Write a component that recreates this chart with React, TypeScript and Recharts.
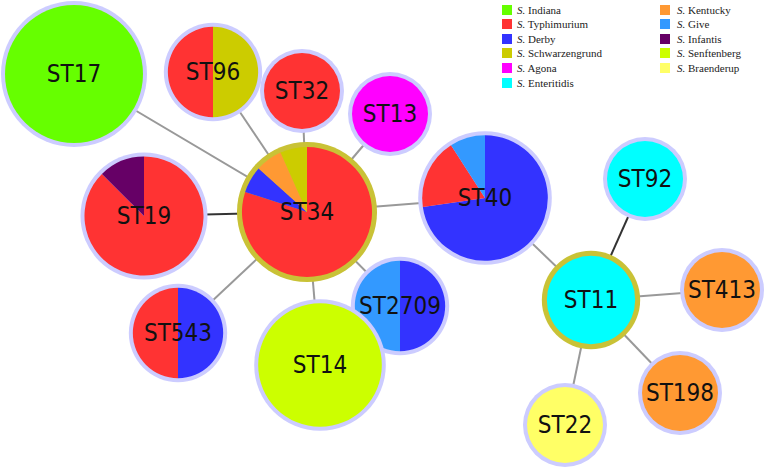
import { ScatterChart, Scatter, XAxis, YAxis, ZAxis } from 'recharts'

// serovars and their legend colours
const species = ['Indiana', 'Typhimurium', 'Derby', 'Schwarzengrund', 'Agona', 'Enteritidis', 'Kentucky', 'Give', 'Infantis', 'Senftenberg', 'Braenderup']
const speciesColors = ['#66ff00', '#ff3333', '#3333ff', '#cccc00', '#ff00ff', '#00ffff', '#ff9933', '#3399ff', '#660066', '#ccff00', '#ffff66']

// sequence types and their position in the MST layout
const nodeIds = ['ST17', 'ST96', 'ST32', 'ST13', 'ST34', 'ST40', 'ST19', 'ST543', 'ST2709', 'ST14', 'ST11', 'ST92', 'ST413', 'ST198', 'ST22']
const layoutX = [74, 213, 302, 390, 307, 485, 144, 178, 400, 320, 591, 645, 722, 680, 565]
const layoutY = [74, 72, 91, 114, 212, 198, 216, 333, 306, 365, 300, 179, 290, 393, 425]

// isolates per serovar in each ST, clockwise from 12 o'clock
const isolates: [string, number][][] = [
  [['Indiana', 20]],
  [['Schwarzengrund', 1], ['Typhimurium', 1]],
  [['Typhimurium', 1]],
  [['Agona', 1]],
  [['Typhimurium', 12], ['Derby', 1], ['Kentucky', 1], ['Schwarzengrund', 1]],
  [['Derby', 8], ['Typhimurium', 2], ['Give', 1]],
  [['Typhimurium', 7], ['Infantis', 1]],
  [['Derby', 1], ['Typhimurium', 1]],
  [['Derby', 1], ['Give', 1]],
  [['Senftenberg', 10]],
  [['Enteritidis', 2]],
  [['Enteritidis', 1]],
  [['Kentucky', 1]],
  [['Kentucky', 1]],
  [['Braenderup', 1]],
]

// group founders get a gold ring
const founders = ['ST34', 'ST11']

const edges: [string, string][] = [
  ['ST17', 'ST34'], ['ST96', 'ST34'], ['ST32', 'ST34'], ['ST13', 'ST34'], ['ST19', 'ST34'],
  ['ST40', 'ST34'], ['ST543', 'ST34'], ['ST2709', 'ST34'], ['ST14', 'ST34'],
  ['ST40', 'ST11'], ['ST92', 'ST11'], ['ST413', 'ST11'], ['ST198', 'ST11'], ['ST22', 'ST11'],
]
const darkEdges = ['ST19', 'ST92']

const nodes = nodeIds.map((id, i) => ({
  id,
  x: layoutX[i],
  y: layoutY[i],
  z: isolates[i].reduce((s, d) => s + d[1], 0),
  slices: isolates[i],
  founder: founders.includes(id),
}))
const nodeById = (id: string) => nodes.find(n => n.id === id)!

const colorOf = (name: string) => speciesColors[species.indexOf(name)]

function PieNode(props: any) {
  const { cx, cy, size, payload } = props
  const r = size
  const ring = payload.founder ? '#c9c236' : '#ccccff'
  const inner = r - (payload.founder ? 5 : 4)
  const total = payload.z
  let a = 0
  const parts = payload.slices.map((d: [string, number], i: number) => {
    if (payload.slices.length === 1) {
      return <circle key={i} cx={cx} cy={cy} r={inner} fill={colorOf(d[0])} />
    }
    const a0 = a
    a += (d[1] / total) * 2 * Math.PI
    const x0 = cx + inner * Math.sin(a0)
    const y0 = cy - inner * Math.cos(a0)
    const x1 = cx + inner * Math.sin(a)
    const y1 = cy - inner * Math.cos(a)
    const large = a - a0 > Math.PI ? 1 : 0
    return (
      <path
        key={i}
        d={`M${cx},${cy}L${x0},${y0}A${inner},${inner} 0 ${large} 1 ${x1},${y1}Z`}
        fill={colorOf(d[0])}
      />
    )
  })
  return (
    <g>
      <circle cx={cx} cy={cy} r={r} fill={ring} />
      {parts}
      <text
        x={cx}
        y={cy}
        textAnchor="middle"
        dominantBaseline="central"
        fontFamily="'DejaVu Sans Condensed', 'DejaVu Sans', sans-serif"
        fontSize={24}
        fill="#111"
      >
        {payload.id}
      </text>
    </g>
  )
}

const noShape = () => <g />

function SpeciesLegend() {
  const col = (items: string[], left: number, boxLeft: number, start: number) =>
    items.map((s, i) => (
      <div key={s} style={{ position: 'absolute', top: 4 + i * 14.6, left: boxLeft, height: 11, display: 'flex', alignItems: 'center' }}>
        <span style={{ width: 10, height: 10, background: speciesColors[start + i], display: 'inline-block' }} />
        <span style={{ position: 'absolute', left: left - boxLeft, whiteSpace: 'nowrap', fontFamily: "'Liberation Serif', serif", fontSize: 11, color: '#222' }}>
          <i>S.</i> {s}
        </span>
      </div>
    ))
  return (
    <div style={{ position: 'absolute', left: 0, top: 0 }}>
      {col(species.slice(0, 6), 517, 502, 0)}
      {col(species.slice(6), 677, 660, 6)}
    </div>
  )
}

export default function App() {
  return (
    <div style={{ position: 'absolute', left: 0, top: 0, width: 767, height: 469, background: '#fff' }}>
      <ScatterChart width={767} height={469} margin={{ top: 0, right: 0, bottom: 0, left: 0 }}>
        <XAxis type="number" dataKey="x" domain={[0, 767]} hide />
        <YAxis type="number" dataKey="y" domain={[0, 469]} reversed hide />
        <ZAxis type="number" dataKey="z" scale="log" domain={[1, 20]} range={[42, 73]} />
        {edges.map(([a, b]) => (
          <Scatter
            key={a + b}
            data={[nodeById(a), nodeById(b)]}
            line={{ stroke: darkEdges.includes(a) ? '#333' : '#999', strokeWidth: 2 }}
            shape={noShape}
            legendType="none"
            isAnimationActive={false}
          />
        ))}
        <Scatter data={nodes} shape={PieNode} isAnimationActive={false} />
      </ScatterChart>
      <SpeciesLegend />
    </div>
  )
}
